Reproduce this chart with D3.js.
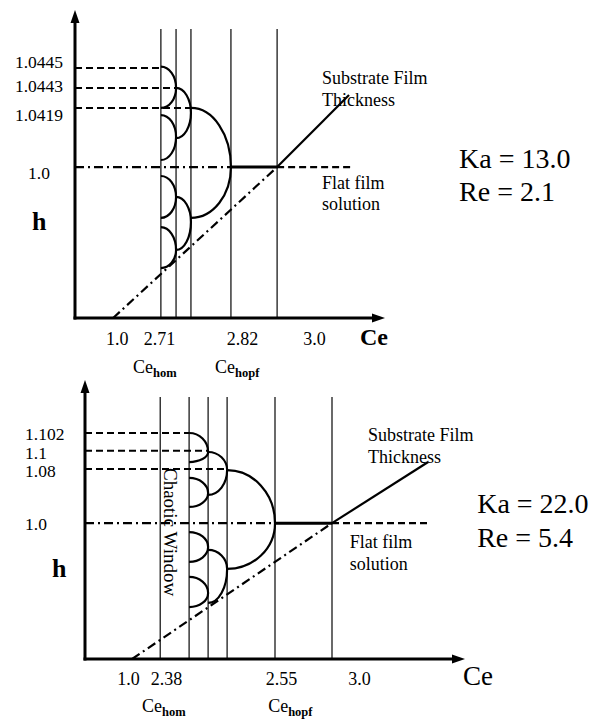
<!DOCTYPE html>
<html>
<head>
<meta charset="utf-8">
<script src="https://cdn.jsdelivr.net/npm/d3@7"></script>
<style>
  html, body { margin: 0; padding: 0; background: #fff; }
  svg { display: block; }
</style>
</head>
<body>
<script>
// ---------- DATA (schematic units: 0–100 along each axis) ----------
// Top panel: Ka = 13.0, Re = 2.1
const topXTickLabels = ["1.0", "2.71", "2.82", "3.0"];
const topXTickPos    = [13.5, 27.1, 53.9, 77.1];
const topYTickLabels = ["1.0445", "1.0443", "1.0419", "1.0"];
const topYTickPos    = [83.1, 75.3, 65.9, 47.1];
const topCeLines     = [27.7, 32.6, 37.4, 50.3, 65.2];   // vertical Ce lines
const topLineTop     = 93.8;
const topLevels      = [81.2, 74.7, 68.2];              // dashed amplitude levels
const topLevelEndCol = [0, 1, 2];
const topFlat        = 49.0;                            // h = 1.0
const topFlatEnd     = 89.4;
const topDiagStart   = [12.3, 0];
const topDiagEnd     = [88.4, 72.4];
// arcs: [column, top, peak, bottom]
const topArcs = [
  [0, 81.6, 74.7, 68.2], [0, 65.9, 58.8, 51.3], [0, 46.1, 39.3, 32.5], [0, 29.5, 22.1, 16.2],
  [1, 74.7, 66.6, 58.4], [1, 39.3, 31.2, 22.1],
  [2, 68.2, 49.0, 32.5]
];
const topParams = ["Ka = 13.0", "Re = 2.1"];

// Bottom panel: Ka = 22.0, Re = 5.4
const botXTickLabels = ["1.0", "2.38", "2.55", "3.0"];
const botXTickPos    = [11.3, 21.3, 51.6, 72.1];
const botYTickLabels = ["1.102", "1.1", "1.08", "1.0"];
const botYTickPos    = [80.6, 73.9, 67.4, 48.4];
const botCeLines     = [19.8, 27.4, 32.4, 37.4, 50.0, 65.0];
const botLineTop     = 93.9;
const botLevels      = [81.0, 74.6, 68.1];
const botLevelEndCol = [1, 2, 3];
const botFlat        = 48.7;
const botFlatEnd     = 90.0;
const botDiagStart   = [12.4, 0];
const botDiagEnd     = [90.3, 70.6];
const botArcs = [
  [1, 81.0, 74.2, 70.6], [1, 64.9, 59.5, 54.5], [1, 45.5, 40.1, 34.8], [1, 29.4, 23.7, 18.6],
  [2, 74.2, 67.7, 58.8], [2, 39.1, 32.3, 20.1],
  [3, 67.7, 48.7, 32.3]
];
const botParams = ["Ka = 22.0", "Re = 5.4"];

// ---------- DRAWING ----------
const FONT = "'Liberation Serif', 'Times New Roman', Times, 'Nimbus Roman', 'DejaVu Serif', serif";
const W = 601, H = 719;
const svg = d3.select("body").append("svg").attr("width", W).attr("height", H)
  .attr("font-family", FONT).style("font-family", FONT);

function txt(g) {
  return g.append("text").attr("font-family", FONT).style("font-family", FONT).attr("fill", "#000");
}

function panel(cfg) {
  const x = d3.scaleLinear([0, 100], cfg.xr);
  const y = d3.scaleLinear([0, 100], cfg.yr);
  const g = svg.append("g");
  const cols = cfg.cols;
  const hopfCol = cfg.arcs[cfg.arcs.length - 1][0] + 1;
  const crossCol = cols.length - 1;

  // vertical lines
  g.selectAll("line.v").data(cols).join("line")
    .attr("x1", d => x(d)).attr("x2", d => x(d))
    .attr("y1", y(0)).attr("y2", y(cfg.lineTop))
    .attr("stroke", "#2a2a2a").attr("stroke-width", 1.4);

  // dashed amplitude levels
  g.selectAll("line.lv").data(cfg.levels).join("line")
    .attr("x1", x(0)).attr("x2", (d, i) => x(cols[cfg.levelEnd[i]]))
    .attr("y1", d => y(d)).attr("y2", d => y(d))
    .attr("stroke", "#000").attr("stroke-width", 2).attr("stroke-dasharray", "7,4");

  // flat film: dash-dot, solid, dashed
  g.append("line").attr("x1", x(0)).attr("x2", x(cols[hopfCol]))
    .attr("y1", y(cfg.flat)).attr("y2", y(cfg.flat))
    .attr("stroke", "#000").attr("stroke-width", 2.2).attr("stroke-dasharray", "9,4,2,4");
  g.append("line").attr("x1", x(cols[hopfCol])).attr("x2", x(cols[crossCol]))
    .attr("y1", y(cfg.flat)).attr("y2", y(cfg.flat))
    .attr("stroke", "#000").attr("stroke-width", 3);
  g.append("line").attr("x1", x(cols[crossCol])).attr("x2", x(cfg.flatEnd))
    .attr("y1", y(cfg.flat)).attr("y2", y(cfg.flat))
    .attr("stroke", "#000").attr("stroke-width", 2.2).attr("stroke-dasharray", "7,4");

  // substrate thickness diagonal
  g.append("line").attr("x1", x(cfg.diagStart[0])).attr("y1", y(cfg.diagStart[1]))
    .attr("x2", x(cols[crossCol])).attr("y2", y(cfg.flat))
    .attr("stroke", "#000").attr("stroke-width", 2.2).attr("stroke-dasharray", "9,4,2,4");
  g.append("line").attr("x1", x(cols[crossCol])).attr("y1", y(cfg.flat))
    .attr("x2", x(cfg.diagEnd[0])).attr("y2", y(cfg.diagEnd[1]))
    .attr("stroke", "#000").attr("stroke-width", 2.2);

  // arcs (two quarter ellipses each)
  g.selectAll("path.arc").data(cfg.arcs).join("path")
    .attr("d", d => {
      const x0 = x(cols[d[0]]), x1 = x(cols[d[0] + 1]);
      const yt = y(d[1]), yp = y(d[2]), yb = y(d[3]);
      const rx = x1 - x0;
      return `M${x0},${yt} A${rx},${yp - yt} 0 0 1 ${x1},${yp} A${rx},${yb - yp} 0 0 1 ${x0},${yb}`;
    })
    .attr("fill", "none").attr("stroke", "#000").attr("stroke-width", 2.2);

  // axes lines with arrow heads
  g.append("line").attr("x1", x(0)).attr("x2", x(0)).attr("y1", y(0) + 1.5).attr("y2", y(100) + 8)
    .attr("stroke", "#000").attr("stroke-width", 3);
  g.append("line").attr("x1", x(0) - 1.5).attr("x2", x(100) - 8).attr("y1", y(0)).attr("y2", y(0))
    .attr("stroke", "#000").attr("stroke-width", 3);
  g.append("path").attr("d", `M${x(0)},${y(100)} l-4.5,13 l9,0 Z`).attr("fill", "#000");
  g.append("path").attr("d", `M${x(100)},${y(0)} l-13,-4.5 l0,9 Z`).attr("fill", "#000");

  // y tick labels through axis
  const ya = g.append("g").attr("transform", `translate(${x(0)},0)`)
    .call(d3.axisLeft(y).tickValues(cfg.yTickPos).tickFormat((d, i) => cfg.yTickLabels[i]).tickSize(0));
  ya.attr("font-family", FONT).attr("font-size", 18);
  ya.select(".domain").remove();
  ya.selectAll("text").attr("font-size", 17.5).attr("font-family", FONT).style("font-family", FONT)
    .attr("text-anchor", cfg.yAnchor).attr("x", cfg.yLabelX - x(0));

  // x tick labels through axis
  const xa = g.append("g").attr("transform", `translate(0,${y(0)})`)
    .call(d3.axisBottom(x).tickValues(cfg.xTickPos).tickFormat((d, i) => cfg.xTickLabels[i]).tickSize(0).tickPadding(cfg.xPad));
  xa.attr("font-family", FONT).attr("font-size", 18);
  xa.select(".domain").remove();
  xa.selectAll("text").attr("font-size", 18).attr("font-family", FONT).style("font-family", FONT);

  // axis titles
  txt(g).attr("x", x(cfg.ceLabel[0])).attr("y", y(cfg.ceLabel[1]))
    .attr("font-size", cfg.ceSize).attr("font-weight", cfg.ceWeight).text("Ce");
  txt(g).attr("x", x(cfg.hLabel[0])).attr("y", y(cfg.hLabel[1]))
    .attr("font-size", 26).attr("font-weight", "bold").text("h");

  // Ce_hom / Ce_hopf
  cfg.subs.forEach(s => {
    const t = txt(g).attr("x", x(s[1])).attr("y", y(s[2])).attr("font-size", 18);
    t.append("tspan").text("Ce");
    t.append("tspan").attr("dy", 4).attr("font-size", 12.5).attr("font-weight", "bold").text(s[0]);
  });

  // annotations
  cfg.notes.forEach(n => {
    txt(g).attr("x", x(n[1])).attr("y", y(n[2])).attr("font-size", 18).text(n[0]);
  });
  cfg.params.forEach((p, i) => {
    txt(g).attr("x", x(cfg.paramPos[0])).attr("y", y(cfg.paramPos[1][i]))
      .attr("font-size", 28).text(p);
  });

  if (cfg.chaos) {
    txt(g)
      .attr("transform", `translate(${x(cfg.chaos[0])},${y(cfg.chaos[1])}) rotate(90)`)
      .attr("text-anchor", "middle").attr("dominant-baseline", "central")
      .attr("font-size", 19).text("Chaotic Window");
  }
}

panel({
  xr: [75, 385], yr: [318, 10],
  cols: topCeLines, lineTop: topLineTop, levels: topLevels, levelEnd: topLevelEndCol,
  flat: topFlat, flatEnd: topFlatEnd, diagStart: topDiagStart, diagEnd: topDiagEnd,
  arcs: topArcs,
  yTickPos: topYTickPos, yTickLabels: topYTickLabels, yAnchor: "middle", yLabelX: 39,
  xTickPos: topXTickPos, xTickLabels: topXTickLabels, xPad: 14,
  ceLabel: [91.9, -8.8], ceSize: 24, ceWeight: "bold",
  hLabel: [-13.9, 28.6],
  subs: [["hom", 18.7, -17.9], ["hopf", 45.2, -17.9]],
  notes: [["Substrate Film", 79.7, 76.0], ["Thickness", 79.7, 68.8], ["Flat film", 79.7, 41.9], ["solution", 79.7, 35.1]],
  params: topParams, paramPos: [123.9, [48.7, 38.0]],
  chaos: null
});

panel({
  xr: [85, 465], yr: [659, 380],
  cols: botCeLines, lineTop: botLineTop, levels: botLevels, levelEnd: botLevelEndCol,
  flat: botFlat, flatEnd: botFlatEnd, diagStart: botDiagStart, diagEnd: botDiagEnd,
  arcs: botArcs,
  yTickPos: botYTickPos, yTickLabels: botYTickLabels, yAnchor: "start", yLabelX: 25,
  xTickPos: botXTickPos, xTickLabels: botXTickLabels, xPad: 13,
  ceLabel: [99.5, -9.3], ceSize: 27, ceWeight: "normal",
  hLabel: [-8.7, 29.4],
  subs: [["hom", 15.0, -19.0], ["hopf", 48.2, -19.0]],
  notes: [["Substrate Film", 74.5, 78.1], ["Thickness", 74.5, 70.3], ["Flat film", 69.7, 39.8], ["solution", 69.7, 31.9]],
  params: botParams, paramPos: [103.2, [52.3, 40.1]],
  chaos: [22.4, 45.5]
});
</script>
</body>
</html>
